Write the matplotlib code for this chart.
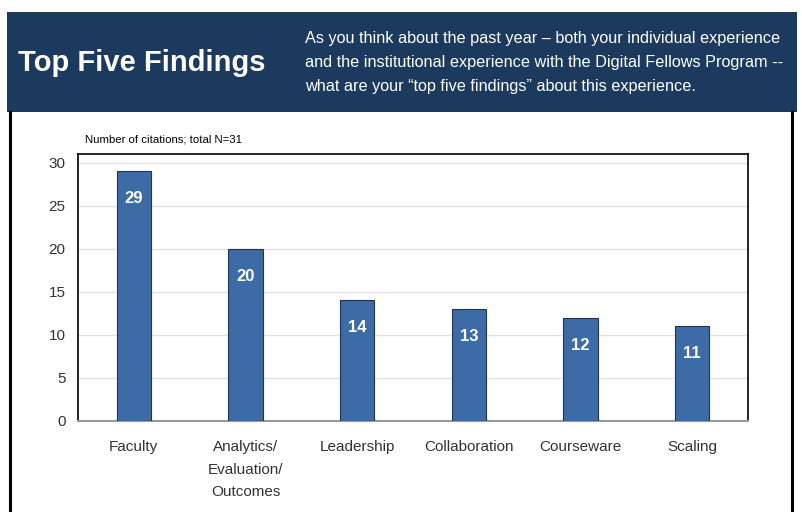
import matplotlib
matplotlib.use("Agg")
import matplotlib.pyplot as plt
from matplotlib.patches import Rectangle
from matplotlib import font_manager

categories = ["Faculty", "Analytics/\nEvaluation/\nOutcomes", "Leadership", "Collaboration", "Courseware", "Scaling"]
values = [29, 20, 14, 13, 12, 11]
yticks = [0, 5, 10, 15, 20, 25, 30]

names = {f.name for f in font_manager.fontManager.ttflist}
narrow = "Liberation Sans Narrow" if "Liberation Sans Narrow" in names else "Liberation Sans"
plt.rcParams['font.family'] = [narrow, 'DejaVu Sans']

W, H = 802, 512
fig = plt.figure(figsize=(W / 100, H / 100), dpi=100)
fig.patch.set_facecolor("white")

# background decorations in pixel coords
bg = fig.add_axes([0, 0, 1, 1])
bg.set_xlim(0, W)
bg.set_ylim(H, 0)
bg.axis("off")
bg.add_patch(Rectangle((7, 12), 790, 100, facecolor="#1c3a5e", edgecolor="none"))
bg.plot([10, 10], [112, 512], color="black", lw=2.2)
bg.plot([792, 792], [112, 512], color="black", lw=2.2)
bg.text(18, 63, "Top Five Findings", color="white", fontsize=21, fontweight="bold",
        va="center", ha="left")
sub = ("As you think about the past year \u2013 both your individual experience\n"
       "and the institutional experience with the Digital Fellows Program --\n"
       "what are your \u201ctop five findings\u201d about this experience.")
bg.text(305, 62, sub, color="white", fontsize=11.7, va="center", ha="left",
        linespacing=1.75)
bg.text(85, 140, "Number of citations; total N=31", color="black", fontsize=8.2,
        va="center", ha="left")

# chart axes
left, right, top, bottom = 78, 748, 154, 421
ax = fig.add_axes([left / W, 1 - bottom / H, (right - left) / W, (bottom - top) / H])
x = list(range(len(categories)))
ax.bar(x, values, width=0.31, color="#3d6ba6", edgecolor="#1f3555", linewidth=0.8, zorder=3)
ax.set_xlim(-0.5, len(categories) - 0.5)
ax.set_ylim(0, 31)
ax.set_yticks(yticks)
ax.set_xticks(x)
ax.set_xticklabels(categories, fontsize=11, color="#333333", linespacing=1.75, va="top")
ax.tick_params(axis="y", labelsize=11, colors="#333333", length=0, pad=9)
ax.tick_params(axis="x", length=0, pad=14)
ax.grid(axis="y", color="#e2e2e2", lw=1, zorder=0)
for s in ["top", "right", "left"]:
    ax.spines[s].set_color("black")
    ax.spines[s].set_linewidth(1.2)
ax.spines["bottom"].set_color("#999999")
ax.spines["bottom"].set_linewidth(1.5)
for xi, v in zip(x, values):
    ax.text(xi, v - 3.2, str(v), color="white", fontsize=12, fontweight="bold",
            ha="center", va="center", zorder=4)

fig.savefig("out.png", dpi=100, facecolor="white")
